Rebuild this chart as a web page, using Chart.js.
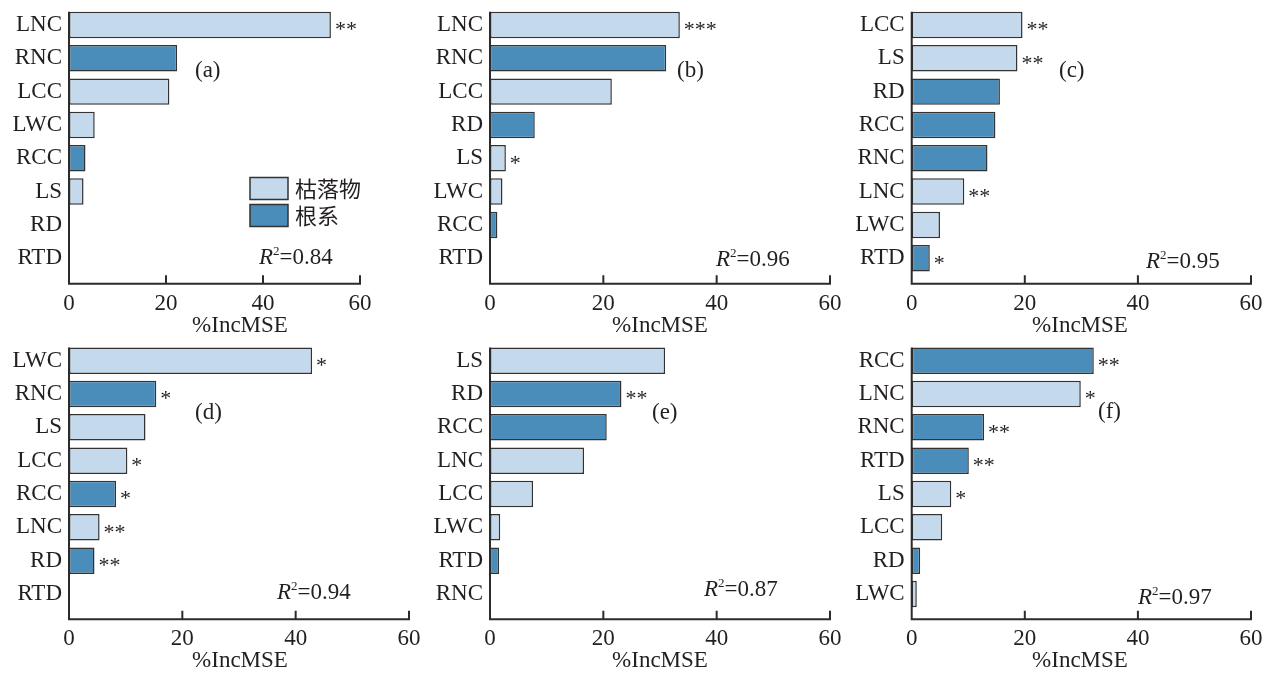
<!DOCTYPE html>
<html>
<head>
<meta charset="utf-8">
<script src="https://cdn.jsdelivr.net/npm/chart.js@4.4.0/dist/chart.umd.min.js"></script>
<style>
  body { margin: 0; background: #fff; width: 1271px; height: 673px; position: relative; overflow: hidden; }
  canvas { position: absolute; }
</style>
</head>
<body>
<canvas id="chartA" width="431" height="336" style="left:0px;top:0px"></canvas>
<canvas id="chartB" width="431" height="336" style="left:420px;top:0px"></canvas>
<canvas id="chartC" width="431" height="336" style="left:840px;top:0px"></canvas>
<canvas id="chartD" width="431" height="338" style="left:0px;top:335px"></canvas>
<canvas id="chartE" width="431" height="338" style="left:420px;top:335px"></canvas>
<canvas id="chartF" width="431" height="338" style="left:840px;top:335px"></canvas>
<script>
// tick labels and series names
const xTicks = [0, 20, 40, 60];
const seriesNames = ['枯落物', '根系'];   // L* = litter, R* = root

// (a)
const labelsA = ['LNC', 'RNC', 'LCC', 'LWC', 'RCC', 'LS', 'RD', 'RTD'];
const valuesA = [54.0, 22.3, 20.7, 5.3, 3.4, 3.0, 0, 0];
const starsA  = ['**', '', '', '', '', '', '', ''];
// (b)
const labelsB = ['LNC', 'RNC', 'LCC', 'RD', 'LS', 'LWC', 'RCC', 'RTD'];
const valuesB = [33.5, 31.1, 21.5, 7.9, 2.8, 2.2, 1.3, 0];
const starsB  = ['***', '', '', '', '*', '', '', ''];
// (c)
const labelsC = ['LCC', 'LS', 'RD', 'RCC', 'RNC', 'LNC', 'LWC', 'RTD'];
const valuesC = [19.6, 18.7, 15.6, 14.8, 13.4, 9.3, 5.0, 3.2];
const starsC  = ['**', '**', '', '', '', '**', '', '*'];
// (d)
const labelsD = ['LWC', 'RNC', 'LS', 'LCC', 'RCC', 'LNC', 'RD', 'RTD'];
const valuesD = [42.9, 15.4, 13.5, 10.3, 8.3, 5.4, 4.5, 0];
const starsD  = ['*', '*', '', '*', '*', '**', '**', ''];
// (e)
const labelsE = ['LS', 'RD', 'RCC', 'LNC', 'LCC', 'LWC', 'RTD', 'RNC'];
const valuesE = [30.9, 23.2, 20.6, 16.6, 7.6, 1.8, 1.6, 0];
const starsE  = ['', '**', '', '', '', '', '', ''];
// (f)
const labelsF = ['RCC', 'LNC', 'RNC', 'RTD', 'LS', 'LCC', 'RD', 'LWC'];
const valuesF = [32.2, 29.9, 12.8, 10.1, 7.0, 5.4, 1.5, 0.9];
const starsF  = ['**', '*', '**', '**', '*', '', '', ''];

const r2Values = ['0.84', '0.96', '0.95', '0.94', '0.87', '0.97'];
const panelTags = ['(a)', '(b)', '(c)', '(d)', '(e)', '(f)'];

const LIGHT = '#c5d9ec';
const DARK = '#4a8dbb';
const INK = '#231f20';
const SERIF = '"Liberation Serif", "Times New Roman", serif';
const BAR_PCT = 0.795;

Chart.defaults.font.family = SERIF;
Chart.defaults.font.size = 23;
Chart.defaults.color = INK;

// layout of each panel (canvas-local pixels)
const panels = [
  { id: 'chartA', labels: labelsA, values: valuesA, stars: starsA, axisLeft: 69, axisRight: 360, padTop: 8.3,
    tag: [195, 71], r2: [259, 258], legend: true },
  { id: 'chartB', labels: labelsB, values: valuesB, stars: starsB, axisLeft: 70, axisRight: 410, padTop: 8.3,
    tag: [257, 71], r2: [296, 260] },
  { id: 'chartC', labels: labelsC, values: valuesC, stars: starsC, axisLeft: 71.7, axisRight: 411, padTop: 8.3,
    tag: [219, 71], r2: [306, 262] },
  { id: 'chartD', labels: labelsD, values: valuesD, stars: starsD, axisLeft: 69, axisRight: 409, padTop: 9,
    tag: [195, 77.7], r2: [277, 258] },
  { id: 'chartE', labels: labelsE, values: valuesE, stars: starsE, axisLeft: 70, axisRight: 410, padTop: 9,
    tag: [232, 77.7], r2: [284, 255] },
  { id: 'chartF', labels: labelsF, values: valuesF, stars: starsF, axisLeft: 71.7, axisRight: 411, padTop: 9,
    tag: [258, 77], r2: [298, 263] }
];

// axes, stars, panel tags, R2 and legend
const decorPlugin = {
  id: 'decor',
  afterDraw(chart, args, opts) {
    const { ctx, chartArea } = chart;
    const x = chart.scales.x, y = chart.scales.y;
    const p = opts.panel;
    const axisY = chartArea.bottom + 8.7;
    const pitch = y.getPixelForValue(1) - y.getPixelForValue(0);
    const top = y.getPixelForValue(0) - pitch * BAR_PCT / 2;

    ctx.save();
    ctx.strokeStyle = '#2b2b2b';
    ctx.lineWidth = 2;
    ctx.beginPath();
    ctx.moveTo(chartArea.left, top);
    ctx.lineTo(chartArea.left, axisY);
    ctx.lineTo(chartArea.right + 1, axisY);
    xTicks.slice(1).forEach(v => {
      const px = x.getPixelForValue(v);
      ctx.moveTo(px, axisY);
      ctx.lineTo(px, axisY - 8.5);
    });
    ctx.stroke();

    ctx.fillStyle = INK;
    ctx.font = '22px ' + SERIF;
    ctx.textBaseline = 'middle';
    ctx.textAlign = 'left';
    p.stars.forEach((s, i) => {
      if (!s) return;
      ctx.fillText(s, x.getPixelForValue(p.values[i]) + 4, y.getPixelForValue(i) + 5.5);
    });

    // panel tag
    ctx.font = '23px ' + SERIF;
    ctx.fillText(p.tagText, p.tag[0], p.tag[1]);

    // R^2
    let rx = p.r2[0];
    const ry = p.r2[1];
    ctx.font = 'italic 23px ' + SERIF;
    ctx.fillText('R', rx, ry);
    rx += ctx.measureText('R').width;
    ctx.font = '13px ' + SERIF;
    ctx.fillText('2', rx, ry - 6);
    rx += ctx.measureText('2').width;
    ctx.font = '23px ' + SERIF;
    ctx.fillText('=' + p.r2Text, rx, ry);

    // axis title
    ctx.textAlign = 'center';
    ctx.fillText('%IncMSE', 240, axisY + 42);

    // legend
    if (p.legend) {
      const colors = [LIGHT, DARK];
      ctx.lineWidth = 1.5;
      ctx.strokeStyle = '#333';
      ctx.textAlign = 'left';
      ctx.font = '22px "Noto Sans CJK SC", sans-serif';
      chart.data.datasets.forEach((ds, k) => {
        const by = 177.5 + k * 27;
        ctx.fillStyle = colors[k];
        ctx.fillRect(250, by, 38, 22);
        ctx.strokeRect(250, by, 38, 22);
        ctx.fillStyle = INK;
        ctx.fillText(ds.label, 295, by + 11);
      });
    }
    ctx.restore();
  }
};

panels.forEach((p, n) => {
  p.tagText = panelTags[n];
  p.r2Text = r2Values[n];
  const canvas = document.getElementById(p.id);
  const litter = p.values.map((v, i) => p.labels[i][0] === 'L' ? v : null);
  const root = p.values.map((v, i) => p.labels[i][0] === 'R' ? v : null);
  const common = {
    grouped: false,
    categoryPercentage: 1,
    barPercentage: BAR_PCT,
    borderColor: '#333',
    borderWidth: 1.5,
    borderSkipped: false
  };
  new Chart(canvas.getContext('2d'), {
    type: 'bar',
    data: {
      labels: p.labels,
      datasets: [
        Object.assign({ label: seriesNames[0], data: litter, backgroundColor: LIGHT }, common),
        Object.assign({ label: seriesNames[1], data: root, backgroundColor: DARK }, common)
      ]
    },
    options: {
      indexAxis: 'y',
      responsive: false,
      animation: false,
      layout: { padding: { left: 0, top: p.padTop, right: canvas.width - p.axisRight, bottom: 0 } },
      scales: {
        x: {
          type: 'linear',
          min: 0,
          max: 60,
          grid: { display: false, drawTicks: false },
          border: { display: false },
          ticks: { padding: 15, color: INK },
          afterBuildTicks: s => { s.ticks = xTicks.map(v => ({ value: v })); },
          afterFit: s => {
            s.height = canvas.height - p.padTop - 8 * 33.33;
            s.paddingLeft = 0;
            s.paddingRight = 0;
          }
        },
        y: {
          type: 'category',
          offset: true,
          grid: { display: false, drawTicks: false },
          border: { display: false },
          ticks: { padding: 7, color: INK },
          afterFit: s => {
            s.width = p.axisLeft;
            s.paddingTop = 0;
            s.paddingBottom = 0;
          }
        }
      },
      plugins: {
        legend: { display: false },
        tooltip: { enabled: false },
        decor: { panel: p }
      }
    },
    plugins: [decorPlugin]
  });
});
</script>
</body>
</html>
